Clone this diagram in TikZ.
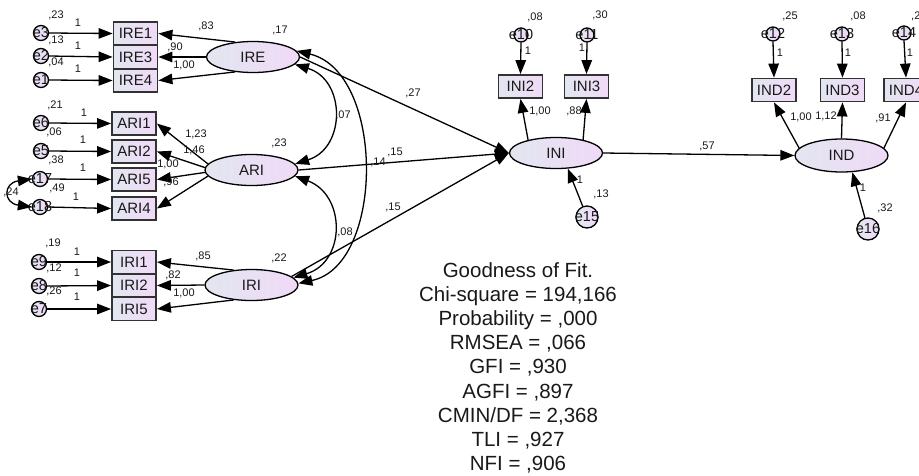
\documentclass[tikz,border=0pt]{standalone}
\usepackage{fontspec}
\setmainfont{Liberation Sans}
\usetikzlibrary{shapes.geometric,arrows.meta}

\definecolor{fillL}{RGB}{226,230,240}
\definecolor{fillR}{RGB}{240,218,247}
\definecolor{boxline}{RGB}{50,50,50}
\definecolor{ink}{RGB}{25,25,25}

\begin{document}
\begin{tikzpicture}[x=1pt,y=-1pt,
  lat/.style={ellipse,draw=black,line width=1.3pt,minimum width=93pt,minimum height=31pt,
    inner sep=0pt,left color=fillL,right color=fillR,text=ink,font=\fontsize{15}{15}\selectfont},
  obs/.style={rectangle,draw=boxline,line width=1.8pt,minimum width=44pt,minimum height=23pt,
    inner sep=0pt,left color=fillL,right color=fillR,text=ink,font=\fontsize{15}{15}\selectfont},
  err/.style={circle,draw=black,line width=1.3pt,minimum size=15pt,inner sep=0pt,
    left color=fillL,right color=fillR},
  bigerr/.style={err,minimum size=22pt},
  elbl/.style={font=\fontsize{14.5}{14.5}\selectfont,inner sep=0pt,text=ink},
  num/.style={font=\fontsize{11}{11}\selectfont,inner sep=0pt,text=ink},
  gof/.style={font=\fontsize{20.5}{24.1}\selectfont,align=center,inner sep=0pt,text=ink},
  arr/.style={line width=1.3pt,-{Triangle[length=14pt,width=10.5pt]}},
  cov/.style={line width=1.3pt,{Triangle[length=14pt,width=10.5pt]}-{Triangle[length=14pt,width=10.5pt]}},
]
\useasboundingbox (0,0) rectangle (919,475);
\fill[white] (0,0) rectangle (919,475);

% ---------- latent variables ----------
\node[lat] (IRE) at (253,57) {IRE};
\node[lat] (ARI) at (251.5,170) {ARI};
\node[lat] (IRI) at (251.5,285) {IRI};
\node[lat] (INI) at (556,153) {INI};
\node[lat,minimum height=33pt] (IND) at (841.5,155.5) {IND};

% ---------- observed indicators ----------
\node[obs] (IRE1) at (135.5,33.5) {IRE1};
\node[obs] (IRE3) at (135.5,57) {IRE3};
\node[obs] (IRE4) at (135.5,80.5) {IRE4};
\node[obs] (ARI1) at (134,123.5) {ARI1};
\node[obs] (ARI2) at (134,151.5) {ARI2};
\node[obs] (ARI5) at (134,179.5) {ARI5};
\node[obs] (ARI4) at (134,208.5) {ARI4};
\node[obs] (IRI1) at (134,262) {IRI1};
\node[obs] (IRI2) at (134,285.5) {IRI2};
\node[obs] (IRI5) at (134,309) {IRI5};
\node[obs] (INI2) at (520.5,86.5) {INI2};
\node[obs] (INI3) at (586.5,86.5) {INI3};
\node[obs] (IND2) at (774,90) {IND2};
\node[obs] (IND3) at (842.5,90) {IND3};
\node[obs] (IND4) at (906,90) {IND4};

% ---------- error terms ----------
\node[err,label={[elbl]center:e3}] (e3) at (41,33) {};
\node[err,label={[elbl]center:e2}] (e2) at (41,56) {};
\node[err,label={[elbl]center:e1}] (e1) at (41,80) {};
\node[err,label={[elbl]center:e6}] (e6) at (41,123) {};
\node[err,label={[elbl]center:e5}] (e5) at (41,151) {};
\node[err,label={[elbl]center:e17}] (e17) at (40,179) {};
\node[err,label={[elbl]center:e18}] (e18) at (40,207) {};
\node[err,label={[elbl]center:e9}] (e9) at (39,262) {};
\node[err,label={[elbl]center:e8}] (e8) at (39,286) {};
\node[err,label={[elbl]center:e7}] (e7) at (39,309) {};
\node[err,minimum size=14pt,label={[elbl]center:e10}] (e10) at (521,35) {};
\node[err,minimum size=14pt,label={[elbl]center:e11}] (e11) at (587,35) {};
\node[err,minimum size=14pt,label={[elbl]center:e12}] (e12) at (773,34) {};
\node[err,minimum size=14pt,label={[elbl]center:e13}] (e13) at (842,34) {};
\node[err,minimum size=14pt,label={[elbl]center:e14}] (e14) at (904,33) {};
\node[bigerr,label={[elbl]center:e15}] (e15) at (587,217) {};
\node[bigerr,label={[elbl]center:e16}] (e16) at (868,229) {};

% ---------- error paths ----------
\foreach \e/\o in {e3/IRE1,e2/IRE3,e1/IRE4,e6/ARI1,e5/ARI2,e17/ARI5,e18/ARI4,e9/IRI1,e8/IRI2,e7/IRI5}
  \draw[arr] (\e.east) -- (\o.west);
\foreach \e/\o in {e10/INI2,e11/INI3,e12/IND2,e13/IND3,e14/IND4}
  \draw[arr] (\e.south) -- (\o.north);
\draw[arr] (e15) -- (INI.-53);
\draw[arr] (e16) -- (IND.-57);
\draw[cov] (e17.west) .. controls (3,183) and (3,203) .. (e18.west);

% ---------- loadings ----------
\draw[arr] (IRE.140) -- (IRE1.east);
\draw[arr] (IRE.west) -- (IRE3.east);
\draw[arr] (IRE.220) -- (IRE4.east);
\draw[arr] (ARI.172) -- (ARI1.east);
\draw[arr] (ARI.177) -- (ARI2.east);
\draw[arr] (ARI.183) -- (ARI5.east);
\draw[arr] (ARI.188) -- (ARI4.east);
\draw[arr] (IRI.140) -- (IRI1.east);
\draw[arr] (IRI.west) -- (IRI2.east);
\draw[arr] (IRI.220) -- (IRI5.east);
\draw[arr] (INI.155) -- (INI2.south);
\draw[arr] (INI.26) -- (INI3.south);
\draw[arr] (IND.170) -- (IND2.south);
\draw[arr] (IND.north) -- (IND3.south);
\draw[arr] (IND.10) -- (IND4.south);

% ---------- structural paths ----------
\draw[arr] (IRE.east) -- (INI.west);
\draw[arr] (ARI.east) -- (INI.west);
\draw[arr] (IRI.12) -- (INI.west);
\draw[arr] (INI.east) -- (IND.west);

% ---------- covariances ----------
\draw[cov] (IRE.-10) .. controls (346,80) and (346,148) .. (ARI.8);
\draw[cov] (ARI.-8) .. controls (346,195) and (346,262) .. (IRI.10);
\draw[cov] (IRE.8) .. controls (385,72) and (385,265) .. (IRI.2);

% ---------- estimates ----------
\node[num] (v3) at (56,15) {,23};
\node[num] (v2) at (56,40) {,13};
\node[num] (v1) at (56,62) {,04};
\node[num] (f3) at (78,23) {1};
\node[num] (f2) at (78,46) {1};
\node[num] (f1) at (78,69) {1};
\node[num] (l83) at (206,26) {,83};
\node[num] (l90) at (175,47) {,90};
\node[num] (l100a) at (184,65) {1,00};
\node[num] (vIRE) at (280,30) {,17};

\node[num] (v6) at (55,105) {,21};
\node[num] (f6) at (84,113) {1};
\node[num] (v5) at (54,132) {,06};
\node[num] (f5) at (83,140) {1};
\node[num] (v17) at (56,160) {,38};
\node[num] (f17) at (83,168) {1};
\node[num] (v18) at (57,188) {,49};
\node[num] (f18) at (76,197) {1};
\node[num] (c1718) at (11,192) {,24};
\node[num] (l123) at (196,134) {1,23};
\node[num] (l146) at (194,150) {1,46};
\node[num] (l100b) at (168,164) {1,00};
\node[num] (l96) at (171,182) {,96};
\node[num] (vARI) at (279,143) {,23};

\node[num] (v9) at (53,243) {,19};
\node[num] (f9) at (77,252) {1};
\node[num] (v8) at (54,268) {,12};
\node[num] (f8) at (77,273) {1};
\node[num] (v7) at (54,291) {,26};
\node[num] (f7) at (77,297) {1};
\node[num] (l85) at (203,256) {,85};
\node[num] (l82) at (173,275) {,82};
\node[num] (l100c) at (184,293) {1,00};
\node[num] (vIRI) at (279,258) {,22};

\node[num] (c07) at (343,115) {,07};
\node[num] (c08) at (345,232) {,08};
\node[num] (c14) at (378,162) {,14};
\node[num] (p27) at (413,93) {,27};
\node[num] (p15a) at (395,152) {,15};
\node[num] (p15b) at (393,207) {,15};

\node[num] (v10) at (535,17) {,08};
\node[num] (f10) at (528,51) {1};
\node[num] (v11) at (600,15) {,30};
\node[num] (f11) at (582,48) {1};
\node[num] (l100d) at (540,111) {1,00};
\node[num] (l88) at (574,111) {,88};
\node[num] (f15) at (580,180) {1};
\node[num] (v15) at (601,194) {,13};
\node[num] (p57) at (707,146) {,57};

\node[num] (v12) at (790,16) {,25};
\node[num] (f12) at (780,53) {1};
\node[num] (v13) at (858,16) {,08};
\node[num] (f13) at (848,53) {1};
\node[num,anchor=west] (v14) at (911,16) {,2};
\node[num] (f14) at (910,53) {1};
\node[num] (l100e) at (801,117) {1,00};
\node[num] (l112) at (826,116) {1,12};
\node[num] (l91) at (883,118) {,91};
\node[num] (f16) at (863,188) {1};
\node[num] (v16) at (885,208) {,32};

% ---------- fit summary ----------
\node[gof,anchor=north] (fit) at (518,262.5) {Goodness of Fit.\\Chi-square = 194,166\\Probability = ,000\\RMSEA = ,066\\GFI = ,930\\AGFI = ,897\\CMIN/DF = 2,368\\TLI = ,927\\NFI = ,906};
\end{tikzpicture}
\end{document}
